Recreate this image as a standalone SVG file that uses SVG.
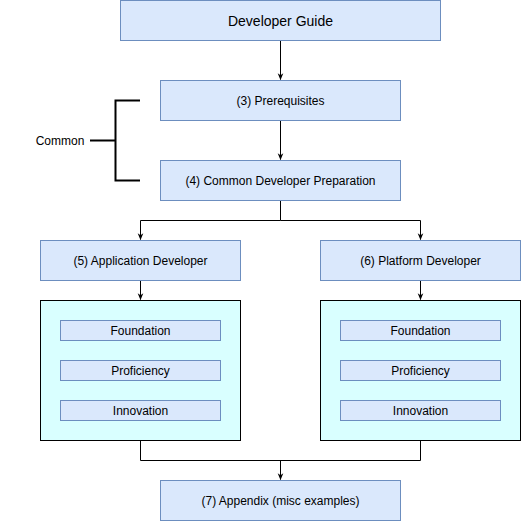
<svg xmlns="http://www.w3.org/2000/svg" width="521" height="521" viewBox="0 0 521 521">
<style>
.b{fill:#dae8fc;stroke:#6c8ebf;stroke-width:1}
.c{fill:#d9ffff;stroke:#000;stroke-width:1}
.t{font-family:"Liberation Sans",Arial,sans-serif;font-size:12px;fill:#000;text-anchor:middle;dominant-baseline:central}
.t14{font-size:14px}
.e{fill:none;stroke:#000;stroke-width:1}
</style>
<defs>
<marker id="a" viewBox="0 0 10 10" refX="9" refY="5" markerWidth="7" markerHeight="7" markerUnits="userSpaceOnUse" orient="auto">
<path d="M0,1 L10,5 L0,9 L3,5 Z" fill="#000"/>
</marker>
</defs>
<rect width="521" height="521" fill="#fff"/>
<g id="connectors">
<path class="e" d="M280.5,40.5 V79.5" marker-end="url(#a)"/>
<path class="e" d="M280.5,120.5 V159.5" marker-end="url(#a)" stroke="#555"/>
<path class="e" d="M280.5,200.5 V220.5 H140.5 V239.5" marker-end="url(#a)"/>
<path class="e" d="M280.5,220.5 H420.5 V239.5" marker-end="url(#a)"/>
<path class="e" d="M140.5,280.5 V299.5" marker-end="url(#a)"/>
<path class="e" d="M420.5,280.5 V299.5" marker-end="url(#a)"/>
<path class="e" d="M140.5,440.5 V460.5 H420.5 V440.5"/>
<path class="e" d="M280.5,460.5 V479.5" marker-end="url(#a)"/>
</g>
<g id="guide"><rect class="b" x="120.5" y="0.5" width="320" height="40"/><text class="t t14" x="280.5" y="20.5">Developer Guide</text></g>
<g id="prereq"><rect class="b" x="160.5" y="80.5" width="240" height="40"/><text class="t" x="280.5" y="100.5">(3) Prerequisites</text></g>
<g id="common-prep"><rect class="b" x="160.5" y="160.5" width="240" height="40"/><text class="t" x="280.5" y="180.5">(4) Common Developer Preparation</text></g>
<g id="common-bracket">
<path d="M140,100.5 H115.5 V180.5 H140 M115.5,140.5 H90" fill="none" stroke="#000" stroke-width="2"/>
<text class="t" x="60" y="140.5">Common</text>
</g>
<g id="app-dev"><rect class="b" x="40.5" y="240.5" width="200" height="40"/><text class="t" x="140.5" y="260.5">(5) Application Developer</text></g>
<g id="plat-dev"><rect class="b" x="320.5" y="240.5" width="200" height="40"/><text class="t" x="420.5" y="260.5">(6) Platform Developer</text></g>
<g id="app-stages">
<rect class="c" x="40.5" y="300.5" width="200" height="140"/>
<rect class="b" x="60.5" y="320.5" width="160" height="20"/><text class="t" x="140.5" y="330.5">Foundation</text>
<rect class="b" x="60.5" y="360.5" width="160" height="20"/><text class="t" x="140.5" y="370.5">Proficiency</text>
<rect class="b" x="60.5" y="400.5" width="160" height="20"/><text class="t" x="140.5" y="410.5">Innovation</text>
</g>
<g id="plat-stages">
<rect class="c" x="320.5" y="300.5" width="200" height="140"/>
<rect class="b" x="340.5" y="320.5" width="160" height="20"/><text class="t" x="420.5" y="330.5">Foundation</text>
<rect class="b" x="340.5" y="360.5" width="160" height="20"/><text class="t" x="420.5" y="370.5">Proficiency</text>
<rect class="b" x="340.5" y="400.5" width="160" height="20"/><text class="t" x="420.5" y="410.5">Innovation</text>
</g>
<g id="appendix"><rect class="b" x="160.5" y="480.5" width="240" height="40"/><text class="t" x="280.5" y="500.5">(7) Appendix (misc examples)</text></g>
</svg>
